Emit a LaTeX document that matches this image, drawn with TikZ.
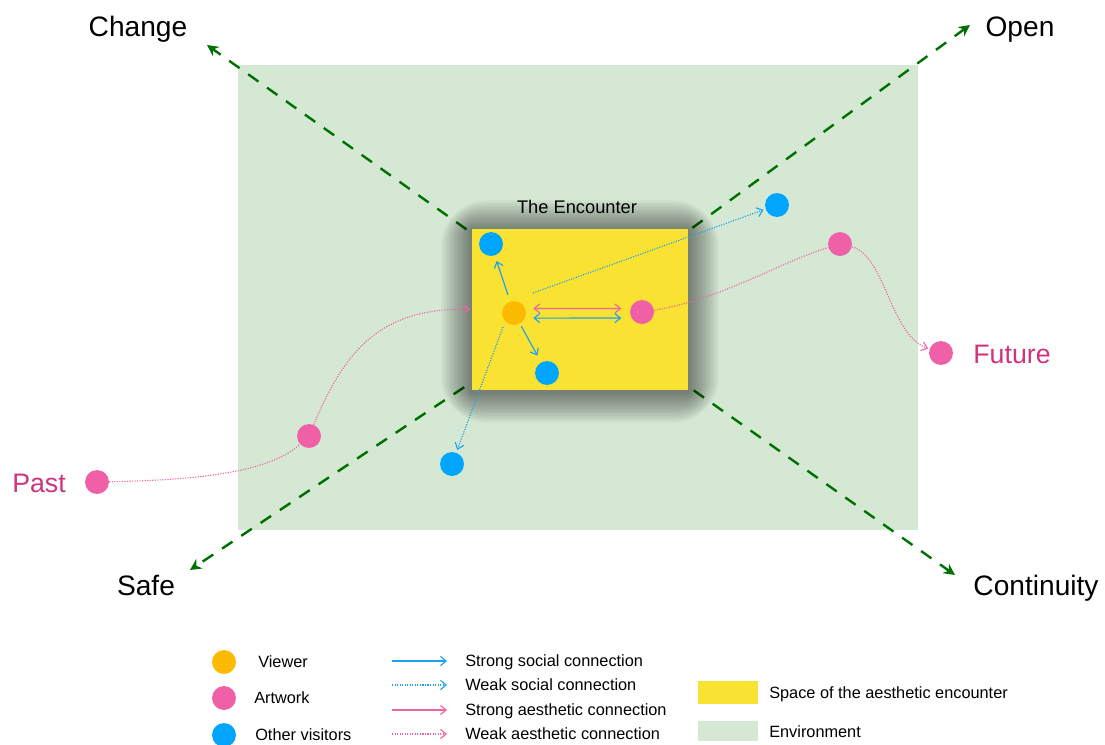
\documentclass[tikz,border=0pt]{standalone}
\usepackage{fontspec}
\setmainfont{Liberation Sans}
\usetikzlibrary{arrows.meta}

\definecolor{envgreen}{RGB}{213,232,212}
\definecolor{encyellow}{RGB}{249,226,50}
\definecolor{axisgreen}{RGB}{0,112,0}
\definecolor{viewerorange}{RGB}{252,186,0}
\definecolor{artpink}{RGB}{239,96,166}
\definecolor{visitorblue}{RGB}{0,165,255}
\definecolor{socialblue}{RGB}{28,160,240}
\definecolor{aespink}{RGB}{238,100,165}
\definecolor{timepink}{RGB}{208,50,125}

\tikzset{
  blob/.style={circle, minimum size=17pt, inner sep=0pt},
  viewer/.style={blob, fill=viewerorange},
  artwork/.style={blob, fill=artpink},
  visitor/.style={blob, fill=visitorblue},
  axis/.style={axisgreen, line width=1.7pt, dash pattern=on 9pt off 7.5pt,
    -{Stealth[length=8pt,width=8pt]}},
  strongsoc/.style={socialblue, line width=0.8pt, -{Straight Barb[length=4pt,width=6.5pt]}},
  weaksoc/.style={socialblue, line width=0.8pt, dash pattern=on 0.8pt off 1pt,
    -{Straight Barb[length=4pt,width=6.5pt]}},
  strongaes/.style={aespink, line width=0.8pt, -{Straight Barb[length=4pt,width=6.5pt]}},
  weakaes/.style={aespink, line width=0.8pt, dash pattern=on 0.8pt off 1pt},
  bigtext/.style={inner sep=0pt, font=\fontsize{20}{24}\selectfont, text height=14.3pt, text depth=0pt},
  timetext/.style={inner sep=0pt, text=timepink, font=\fontsize{19}{23}\selectfont, text height=13.6pt, text depth=0pt},
  legtext/.style={anchor=west, inner sep=0pt, font=\fontsize{11.6}{14}\selectfont, text height=8.3pt, text depth=0pt}
}

\begin{document}
\begin{tikzpicture}[x=0.025cm, y=-0.025cm]
  \useasboundingbox (0,0) rectangle (1105,744);

  % environment
  \fill[envgreen] (238,65) rectangle (918,530);

  % axes
  \coordinate (ctr) at (580,310);
  \coordinate (change) at (207,45);
  \coordinate (open) at (970,25);
  \coordinate (safe) at (190,570);
  \coordinate (cont) at (955,575);
  \draw[axis] (ctr) -- (change);
  \draw[axis] (ctr) -- (open);
  \draw[axis] (ctr) -- (safe);
  \draw[axis] (ctr) -- (cont);
  \node[bigtext] (changelbl) at (138,26) {Change};
  \node[bigtext] (openlbl) at (1020,26) {Open};
  \node[bigtext] (safelbl) at (146,585) {Safe};
  \node[bigtext] (contlbl) at (1036,585) {Continuity};

  % the encounter, with its shadow
  \coordinate (boxsw) at (472,390);
  \coordinate (boxne) at (688,229);
  \foreach \s in {1,...,22}
    \fill[black, opacity=0.022, rounded corners=1.5*\s pt]
      ([shift={(-\s pt,-\s pt-1.5pt)}]boxsw) rectangle ([shift={(\s pt,\s pt-1.5pt)}]boxne);
  \fill[encyellow] (boxsw) rectangle (boxne);
  \node[inner sep=0pt, font=\fontsize{13}{16}\selectfont, text height=9.3pt, text depth=0pt]
    (enclbl) at (577,207) {The Encounter};

  % people and artworks
  \node[viewer] (v) at (514,313) {};
  \node[artwork] (a1) at (642,312) {};
  \node[visitor] (b1) at (491,244) {};
  \node[visitor] (b2) at (547,373) {};
  \node[visitor] (b3) at (777,205) {};
  \node[visitor] (b4) at (452,464) {};
  \node[artwork] (a2) at (840,244) {};
  \node[artwork] (fut) at (941,353) {};
  \node[artwork] (a3) at (309,436) {};
  \node[artwork] (past) at (97,482) {};
  \node[timetext] (pastlbl) at (39,483) {Past};
  \node[timetext] (futlbl) at (1012,354) {Future};

  % connections
  \draw[strongsoc, shorten <=5pt, shorten >=4pt] (v) -- (b1);
  \draw[strongsoc, shorten <=2pt, shorten >=5.5pt] (v) -- (b2);
  \draw[strongaes, {Straight Barb[length=4pt,width=6.5pt]}-{Straight Barb[length=4pt,width=6.5pt]}]
    ([yshift=3.2pt,xshift=5pt]v.east) -- ([yshift=2.5pt,xshift=-6pt]a1.west);
  \draw[strongsoc, {Straight Barb[length=4pt,width=6.5pt]}-{Straight Barb[length=4pt,width=6.5pt]}]
    ([yshift=-3.6pt,xshift=5pt]v.east) -- ([yshift=-4.3pt,xshift=-6pt]a1.west);
  \coordinate (ws1) at (533,293);
  \coordinate (ws2) at (503,327);
  \draw[weaksoc, shorten >=1.5pt] (ws1) -- (b3);
  \draw[weaksoc, shorten >=2pt] (ws2) -- (b4);
  \draw[weakaes] (a1) .. controls (720,300) and (780,262) .. (a2);
  \draw[weakaes, -{Straight Barb[length=4pt,width=6.5pt]}, shorten >=1pt]
    (a2) .. controls (885,255) and (890,335) .. (fut);
  \draw[weakaes] (past) .. controls (200,480) and (270,472) .. (a3);
  \coordinate (boxin) at (470,309);
  \draw[weakaes, -{Straight Barb[length=4pt,width=6.5pt]}]
    (a3) .. controls (345,350) and (380,308) .. (boxin);

  % legend
  \node[viewer] (lviewer) at (224,662) {};
  \node[artwork] (lart) at (224,698) {};
  \node[visitor] (lvisitor) at (224,735) {};
  \node[legtext] (lviewertxt) at (258,662) {Viewer};
  \node[legtext] (larttxt) at (254,698) {Artwork};
  \node[legtext] (lvisitortxt) at (255,735) {Other visitors};

  \foreach \y/\k in {661/1,685/2,710/3,734/4} {
    \coordinate (la\k) at (392,\y);
    \coordinate (lb\k) at (447,\y);
  }
  \draw[strongsoc] (la1) -- (lb1);
  \draw[weaksoc] (la2) -- (lb2);
  \draw[strongaes] (la3) -- (lb3);
  \draw[weakaes, -{Straight Barb[length=4pt,width=6.5pt]}] (la4) -- (lb4);
  \node[legtext] (ls1) at (465,661) {Strong social connection};
  \node[legtext] (ls2) at (465,685) {Weak social connection};
  \node[legtext] (ls3) at (465,710) {Strong aesthetic connection};
  \node[legtext] (ls4) at (465,734) {Weak aesthetic connection};

  \fill[encyellow] (698,681) rectangle (758,704);
  \fill[envgreen] (698,721) rectangle (758,741);
  \node[legtext] (lyellow) at (769,693) {Space of the aesthetic encounter};
  \node[legtext] (lgreen) at (769,732) {Environment};
\end{tikzpicture}
\end{document}
